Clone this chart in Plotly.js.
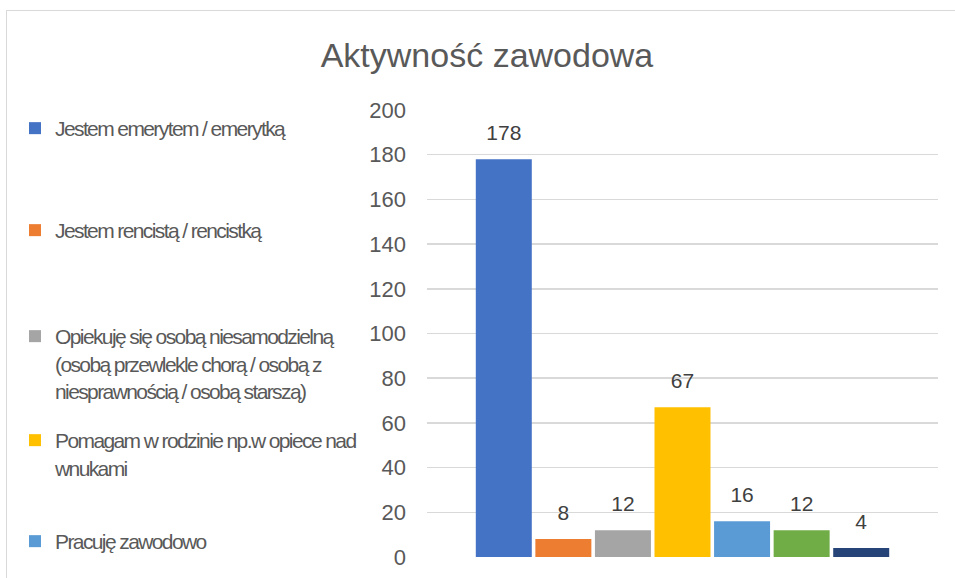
<!DOCTYPE html>
<html><head><meta charset="utf-8">
<script src="https://cdn.plot.ly/plotly-3.0.1.min.js"></script>
<style>
html,body{margin:0;padding:0;background:#fff;}
#chart{width:955px;height:578px;}
#frame{position:absolute;left:6px;top:10px;right:0;bottom:0;border-top:1px solid #d9d9d9;border-left:1px solid #d9d9d9;pointer-events:none;}
#chart text.legendtext, #chart text.legendtext tspan, #chart [class*="legend"] text, #chart [class*="legend"] tspan {letter-spacing:-1.6px !important;}
</style></head><body>
<div id="chart"></div><div id="frame"></div>
<script>
const chartTitle = 'Aktywność zawodowa';
const category = ['Aktywność zawodowa'];
const seriesNames = [
  'Jestem emerytem / emerytką',
  'Jestem rencistą / rencistką',
  'Opiekuję się osobą niesamodzielną<br>(osobą przewlekle chorą / osobą z<br>niesprawnością / osobą starszą)',
  'Pomagam w rodzinie np.w opiece nad<br>wnukami',
  'Pracuję zawodowo',
  'Jestem bezrobotny / bezrobotna',
  'Inne'
];
const seriesValues = [178, 8, 12, 67, 16, 12, 4];
const seriesColors = ['#4472C4', '#ED7D31', '#A5A5A5', '#FFC000', '#5B9BD5', '#70AD47', '#264478'];
const yTickValues = [0, 20, 40, 60, 80, 100, 120, 140, 160, 180, 200];

const legendIds = ['legend', 'legend2', 'legend3', 'legend4', 'legend5'];
const legendTops = [108, 210, 316, 420, 521];

const traces = seriesNames.map((name, i) => {
  const t = {
    type: 'bar',
    name: name,
    x: category,
    y: [seriesValues[i]],
    marker: {color: seriesColors[i], line: {width: 0}},
    text: [String(seriesValues[i])],
    texttemplate: '<span style="font-size:21px">%{text}</span><br>\u00A0',
    textposition: 'outside',
    textfont: {family: 'Liberation Sans, Arial, sans-serif', size: 11, color: '#404040'},
    cliponaxis: false,
    hoverinfo: 'name+y'
  };
  if (i < legendIds.length) { t.legend = legendIds[i]; t.showlegend = true; }
  else { t.showlegend = false; }
  return t;
});

const W = 955, H = 578;
const layout = {
  width: W, height: H,
  margin: {l: 427, r: 17, t: 110, b: 21, pad: 0},
  paper_bgcolor: 'rgba(0,0,0,0)',
  plot_bgcolor: 'rgba(0,0,0,0)',
  title: {
    text: chartTitle,
    font: {family: 'Liberation Sans, Arial, sans-serif', size: 34, color: '#595959'},
    x: 487 / W, xref: 'container', xanchor: 'center',
    y: 1 - 55 / H, yref: 'container', yanchor: 'middle'
  },
  barmode: 'group',
  bargap: 0.184,
  bargroupgap: 0.06,
  xaxis: {
    showticklabels: false, showgrid: false, zeroline: false, showline: false, ticks: '',
    fixedrange: true
  },
  yaxis: {
    range: [0, 200],
    tickvals: yTickValues,
    ticktext: yTickValues.map(String),
    showgrid: true, gridcolor: '#d9d9d9', gridwidth: 1.5,
    zeroline: false, showline: false, ticks: '',
    ticklabelstandoff: 20,
    tickfont: {family: 'Liberation Sans, Arial, sans-serif', size: 22, color: '#595959'},
    fixedrange: true
  },
  showlegend: true
};

legendIds.forEach((id, i) => {
  layout[id] = {
    xref: 'container', yref: 'container',
    x: 15 / W, y: 1 - legendTops[i] / H,
    xanchor: 'left', yanchor: 'top',
    valign: 'top',
    bgcolor: 'rgba(0,0,0,0)', borderwidth: 0,
    font: {family: 'Liberation Sans, Arial, sans-serif', size: 21, color: '#595959'},
    itemclick: false, itemdoubleclick: false
  };
});

function condenseLegend() {
  document.querySelectorAll('#chart text').forEach(el => {
    const cls = (el.getAttribute('class') || '');
    let p = el.parentNode, inLegend = cls.indexOf('legend') >= 0;
    while (!inLegend && p && p.getAttribute) {
      if ((p.getAttribute('class') || '').indexOf('legend') >= 0) inLegend = true;
      p = p.parentNode;
    }
    if (inLegend) el.style.setProperty('letter-spacing', '-1.6px', 'important');
  });
}

Plotly.newPlot('chart', traces, layout, {displayModeBar: false, staticPlot: true}).then(gd => {
  condenseLegend();
  setTimeout(condenseLegend, 50);
  gd.on('plotly_afterplot', condenseLegend);
});
</script>
</body></html>
